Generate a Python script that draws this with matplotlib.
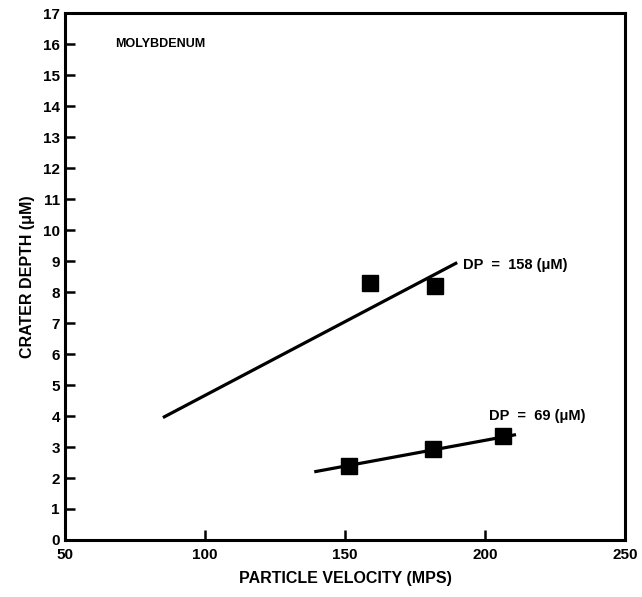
import numpy as np
import matplotlib
matplotlib.use('Agg')
import matplotlib.pyplot as plt

plt.rcParams['font.family'] = ['Liberation Sans', 'DejaVu Sans']
plt.rcParams['font.weight'] = 'bold'

# data
vel_158 = [159, 182]
depth_158 = [8.3, 8.2]
fit_158_x = [85, 190]
fit_158_y = [3.95, 8.95]

vel_69 = [151.5, 181.5, 206.5]
depth_69 = [2.4, 2.95, 3.35]
fit_69_x = [139, 211]
fit_69_y = [2.2, 3.4]

xticks = [50, 100, 150, 200, 250]
yticks = list(range(0, 18))

fig = plt.figure(figsize=(6.42, 5.97), dpi=100)
ax = fig.add_axes([0.101, 0.0955, 0.873, 0.8825])

ax.plot(fit_158_x, fit_158_y, color='black', lw=2.3, solid_capstyle='butt')
ax.plot(vel_158, depth_158, 's', color='black', ms=11)
ax.plot(fit_69_x, fit_69_y, color='black', lw=2.3, solid_capstyle='butt')
ax.plot(vel_69, depth_69, 's', color='black', ms=11)

ax.text(192, 8.87, 'DP  =  158 (\u03bcM)', fontsize=10.5, fontweight='bold', va='center')
ax.text(201.5, 4.0, 'DP  =  69 (\u03bcM)', fontsize=10.5, fontweight='bold', va='center')
ax.text(68, 16.0, 'MOLYBDENUM', fontsize=9, fontweight='bold', va='center')

ax.set_xlim(50, 250)
ax.set_ylim(0, 17)
ax.set_xticks(xticks)
ax.set_yticks(yticks)
ax.tick_params(direction='in', length=7, width=1.8, labelsize=11)
ax.tick_params(axis='x', pad=6)
for s in ax.spines.values():
    s.set_linewidth(2.2)

ax.set_xlabel('PARTICLE VELOCITY (MPS)', fontsize=11.5, fontweight='bold', labelpad=6)
ax.set_ylabel('CRATER DEPTH (\u03bcM)', fontsize=11.5, fontweight='bold', labelpad=6)

fig.savefig('out.png', dpi=100)
